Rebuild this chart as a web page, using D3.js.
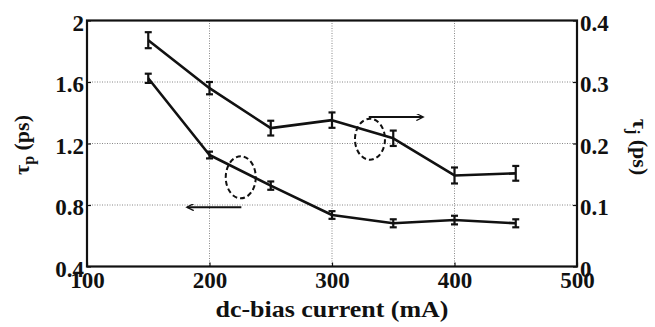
<!DOCTYPE html>
<html><head><meta charset="utf-8">
<script src="https://cdn.jsdelivr.net/npm/d3@7/dist/d3.min.js"></script>
</head>
<body style="margin:0;background:#fff"><svg id="c" width="655" height="327"></svg>
<script>
const current = [150, 200, 250, 300, 350, 400, 450];
const tauP = [1.624, 1.125, 0.926, 0.735, 0.681, 0.702, 0.681];
const tauPErr = [0.030, 0.022, 0.027, 0.025, 0.026, 0.028, 0.026];
const tauJ = [0.368, 0.290, 0.225, 0.238, 0.2085, 0.148, 0.1515];
const tauJErr = [0.013, 0.010, 0.012, 0.0125, 0.0125, 0.013, 0.012];
const xTicks = [100, 200, 300, 400, 500];
const yLeftTicks = [0.4, 0.8, 1.2, 1.6, 2];
const yRightTicks = [0, 0.1, 0.2, 0.3, 0.4];

const FONT = "Liberation Serif";
const L = 87, R = 577, T = 20.5, B = 266.5;
const svg = d3.select("#c");
const x = d3.scaleLinear().domain([100, 500]).range([L, R]);
const yL = d3.scaleLinear().domain([0.4, 2]).range([B, T]);
const yR = d3.scaleLinear().domain([0, 0.4]).range([B, T]);

// grid
const g = svg.append("g");
g.selectAll("line.gx").data(xTicks.slice(1, -1)).join("line")
  .attr("x1", d => x(d)).attr("x2", d => x(d)).attr("y1", T).attr("y2", B)
  .attr("stroke", "#888").attr("stroke-width", 1).attr("stroke-dasharray", "1,1.5");
g.selectAll("line.gy").data(yLeftTicks.slice(1, -1)).join("line")
  .attr("x1", L).attr("x2", R).attr("y1", d => yL(d)).attr("y2", d => yL(d))
  .attr("stroke", "#888").attr("stroke-width", 1).attr("stroke-dasharray", "1,1.5");

// axes
const fs = 23;
const ax = svg.append("g").attr("transform", `translate(0,${B})`)
  .call(d3.axisBottom(x).tickValues(xTicks).tickSize(-4).tickPadding(9).tickFormat(d3.format("d")));
const ayl = svg.append("g").attr("transform", `translate(${L},0)`)
  .call(d3.axisLeft(yL).tickValues(yLeftTicks).tickSize(-4).tickPadding(3).tickFormat(d => d === 2 ? "2" : d3.format(".1f")(d)));
const ayr = svg.append("g").attr("transform", `translate(${R},0)`)
  .call(d3.axisRight(yR).tickValues(yRightTicks).tickSize(-4).tickPadding(3).tickFormat(d => d === 0 ? "0" : d3.format(".1f")(d)));
[ax, ayl, ayr].forEach(a => {
  a.attr("font-family", FONT).attr("font-size", fs).attr("font-weight", "bold");
  a.select(".domain").remove();
  a.selectAll(".tick line").attr("stroke", "#111").attr("stroke-width", 1.2);
  a.selectAll(".tick text").attr("fill", "#111");
});
ax.selectAll(".tick text").attr("dy", "0.55em");
ayl.selectAll(".tick text").attr("dy", "0.42em");
ayr.selectAll(".tick text").attr("dy", "0.42em");

// frame
svg.append("rect").attr("x", L).attr("y", T).attr("width", R - L).attr("height", B - T)
  .attr("fill", "none").attr("stroke", "#111").attr("stroke-width", 2.2);

// series
function drawSeries(vals, errs, ys) {
  const pts = current.map((c, i) => [x(c), ys(vals[i])]);
  svg.append("path").attr("d", d3.line()(pts)).attr("fill", "none")
    .attr("stroke", "#111").attr("stroke-width", 2.6).attr("stroke-linejoin", "round");
  const eb = svg.append("g").attr("stroke", "#111").attr("stroke-width", 2.2);
  current.forEach((c, i) => {
    const cx = x(c), y1 = ys(vals[i] - errs[i]), y2 = ys(vals[i] + errs[i]);
    eb.append("line").attr("x1", cx).attr("x2", cx).attr("y1", y1).attr("y2", y2);
    eb.append("line").attr("x1", cx - 3.5).attr("x2", cx + 3.5).attr("y1", y1).attr("y2", y1);
    eb.append("line").attr("x1", cx - 3.5).attr("x2", cx + 3.5).attr("y1", y2).attr("y2", y2);
  });
}
drawSeries(tauP, tauPErr, yL);
drawSeries(tauJ, tauJErr, yR);

// annotations
const defs = svg.append("defs");
defs.append("marker").attr("id", "ah").attr("viewBox", "0 0 10 10").attr("refX", 9).attr("refY", 5)
  .attr("markerWidth", 10).attr("markerHeight", 7).attr("markerUnits", "userSpaceOnUse").attr("orient", "auto")
  .append("path").attr("d", "M0,0 L10,5 L0,10").attr("fill", "none").attr("stroke", "#111").attr("stroke-width", 1.8);

svg.append("ellipse").attr("cx", x(331)).attr("cy", yR(0.207)).attr("rx", 15).attr("ry", 20.5)
  .attr("fill", "none").attr("stroke", "#111").attr("stroke-width", 2).attr("stroke-dasharray", "5,3");
svg.append("line").attr("x1", x(330)).attr("x2", x(374)).attr("y1", yR(0.243)).attr("y2", yR(0.243))
  .attr("stroke", "#111").attr("stroke-width", 2).attr("marker-end", "url(#ah)");

svg.append("ellipse").attr("cx", x(225.5)).attr("cy", yL(0.98)).attr("rx", 15).attr("ry", 21)
  .attr("fill", "none").attr("stroke", "#111").attr("stroke-width", 2).attr("stroke-dasharray", "5,3");
svg.append("line").attr("x1", x(226)).attr("x2", x(182)).attr("y1", yL(0.786)).attr("y2", yL(0.786))
  .attr("stroke", "#111").attr("stroke-width", 2).attr("marker-end", "url(#ah)");

// axis titles
function txt(sel) { return sel.attr("font-family", FONT).attr("font-weight", "bold").attr("fill", "#111"); }
txt(svg.append("text")).attr("x", (L + R) / 2).attr("y", 317).attr("text-anchor", "middle")
  .attr("font-size", 23.5).attr("textLength", 233).attr("lengthAdjust", "spacingAndGlyphs")
  .text("dc-bias current (mA)");
const tl = txt(svg.append("text")).attr("transform", "translate(29,145) rotate(-90)")
  .attr("text-anchor", "middle").attr("font-size", 22);
tl.append("tspan").text("τ");
tl.append("tspan").attr("font-size", 16).attr("dy", "5").text("p");
tl.append("tspan").attr("dy", "-5").text(" (ps)");
const tr = txt(svg.append("text")).attr("transform", "translate(633,147) rotate(90)")
  .attr("text-anchor", "middle").attr("font-size", 22);
tr.append("tspan").text("τ");
tr.append("tspan").attr("font-size", 16).attr("dy", "5").text("j");
tr.append("tspan").attr("dy", "-5").text(" (ps)");
</script></body></html>
